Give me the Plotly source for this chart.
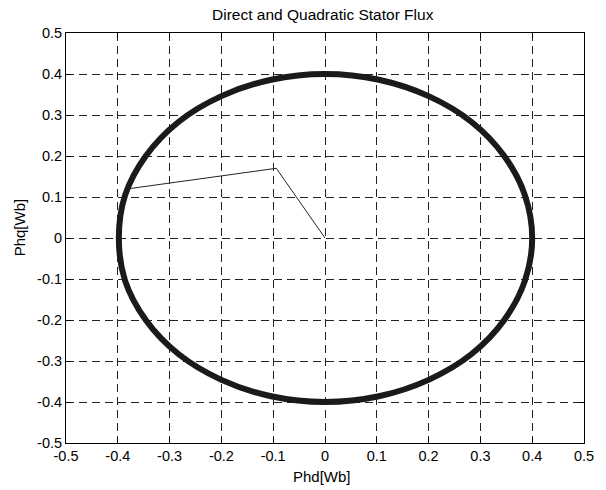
import plotly.graph_objects as go

# Transient start-up trajectory (Phd, Phq)
transient_d = [0.0, -0.094, -0.380]
transient_q = [0.0, 0.170, 0.120]

# Steady-state flux circle (Phd, Phq)
circle_d = [0.400, 0.386, 0.346, 0.283, 0.200, 0.104, 0.000, -0.104, -0.200, -0.283, -0.346, -0.386,
            -0.398, -0.386, -0.346, -0.283, -0.200, -0.104, 0.000, 0.104, 0.200, 0.283, 0.346, 0.386, 0.400]
circle_q = [0.000, 0.104, 0.200, 0.283, 0.346, 0.386, 0.400, 0.386, 0.346, 0.283, 0.200, 0.104,
            0.000, -0.104, -0.200, -0.283, -0.346, -0.386, -0.400, -0.386, -0.346, -0.283, -0.200, -0.104, 0.000]

tick_vals = [-0.5, -0.4, -0.3, -0.2, -0.1, 0, 0.1, 0.2, 0.3, 0.4, 0.5]
tick_text = ["-0.5", "-0.4", "-0.3", "-0.2", "-0.1", "0", "0.1", "0.2", "0.3", "0.4", "0.5"]

font = "Liberation Sans, Arial, sans-serif"

fig = go.Figure()
fig.add_trace(go.Scatter(x=circle_d, y=circle_q, mode="lines",
                         line=dict(color="#1a1a1a", width=6, shape="spline"),
                         hoverinfo="skip", showlegend=False))
fig.add_trace(go.Scatter(x=transient_d, y=transient_q, mode="lines",
                         line=dict(color="#222222", width=1),
                         hoverinfo="skip", showlegend=False))

axis_common = dict(
    tickmode="array", tickvals=tick_vals, ticktext=tick_text,
    range=[-0.5, 0.5], showgrid=True, gridcolor="#222222", gridwidth=1,
    griddash="8px,5px", zeroline=False, showline=True, linecolor="black",
    linewidth=1, mirror="ticks", ticks="inside", ticklen=5, tickcolor="black",
    tickfont=dict(family=font, size=14.5, color="black"),
)

fig.update_xaxes(**axis_common)
fig.update_yaxes(**axis_common)

fig.update_layout(
    width=606, height=490,
    margin=dict(l=66, r=18, t=33, b=47),
    paper_bgcolor="white", plot_bgcolor="white",
    font=dict(family=font, color="black"),
    annotations=[
        dict(text="Direct and Quadratic Stator Flux", xref="paper", yref="paper",
             x=(324.5 - 66) / 522, y=(443 - 15) / 410, xanchor="center", yanchor="middle",
             showarrow=False, font=dict(family=font, size=15.5, color="black")),
        dict(text="Phd[Wb]", xref="paper", yref="paper",
             x=(324 - 66) / 522, y=(443 - 476) / 410, xanchor="center", yanchor="middle",
             showarrow=False, font=dict(family=font, size=15, color="black")),
        dict(text="Phq[Wb]", xref="paper", yref="paper", textangle=-90,
             x=(19 - 66) / 522, y=(443 - 227) / 410, xanchor="center", yanchor="middle",
             showarrow=False, font=dict(family=font, size=15, color="black")),
    ],
)

fig.write_html("out.html")
